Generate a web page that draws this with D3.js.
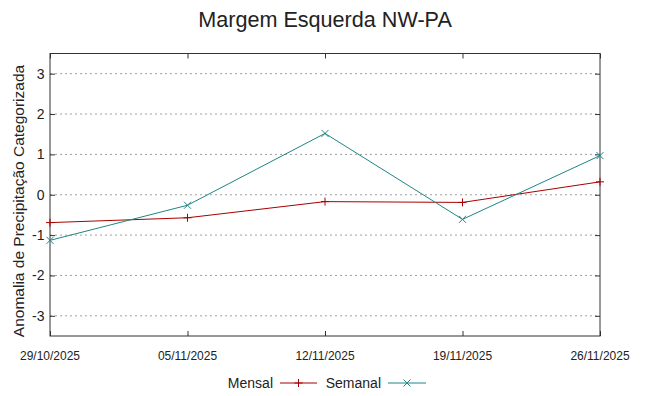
<!DOCTYPE html>
<html><head><meta charset="utf-8">
<script src="https://cdn.jsdelivr.net/npm/d3@7"></script>
<style>body{margin:0;background:#fff}svg{display:block}text{font-family:"Liberation Sans",Arial,sans-serif;fill:#222}</style>
</head><body><svg id="c" width="649" height="396"></svg>
<script>
const dates = ["29/10/2025","05/11/2025","12/11/2025","19/11/2025","26/11/2025"];
const mensal = [-0.69,-0.57,-0.17,-0.19,0.32];
const semanal = [-1.13,-0.26,1.52,-0.61,0.97];
const yTicks = [-3,-2,-1,0,1,2,3];
const title = "Margem Esquerda NW-PA";
const yLabel = "Anomalia de Precipitação Categorizada";

const svg = d3.select("#c");
const L=50, R=600, T=53.5, B=336;
const x = d3.scalePoint().domain(dates).range([L,R]);
const y = d3.scaleLinear().domain([-3.5,3.5]).range([B,T]);

svg.append("text").attr("x",325).attr("y",27).attr("text-anchor","middle")
  .style("font-size","21.6px").text(title);

// grid
svg.append("g").selectAll("line").data(yTicks).join("line")
  .attr("x1",L).attr("x2",R).attr("y1",d=>y(d)).attr("y2",d=>y(d))
  .attr("stroke","#a0a0a0").attr("stroke-width",1).attr("stroke-dasharray","2,3");

// axes with inside ticks
const tl=5;
const gl = svg.append("g").attr("transform",`translate(${L},0)`)
  .call(d3.axisRight(y).tickValues(yTicks).tickSize(tl).tickFormat(""));
const gr = svg.append("g").attr("transform",`translate(${R},0)`)
  .call(d3.axisLeft(y).tickValues(yTicks).tickSize(tl).tickFormat(""));
const gb = svg.append("g").attr("transform",`translate(0,${B})`)
  .call(d3.axisTop(x).tickSize(tl).tickFormat(""));
const gt = svg.append("g").attr("transform",`translate(0,${T})`)
  .call(d3.axisBottom(x).tickSize(tl).tickFormat(""));
[gl,gr,gb,gt].forEach(g=>{g.select(".domain").remove();g.selectAll("line").attr("stroke","#333");});
svg.append("rect").attr("x",L).attr("y",T).attr("width",R-L).attr("height",B-T)
  .attr("fill","none").attr("stroke","#333").attr("stroke-width",1);

// tick labels
svg.append("g").selectAll("text").data(yTicks).join("text")
  .attr("x",44.5).attr("y",d=>y(d)).attr("dy","0.35em").attr("text-anchor","end")
  .style("font-size","14px").text(d=>d);
svg.append("g").selectAll("text").data(dates).join("text")
  .attr("x",d=>x(d)).attr("y",360).attr("text-anchor","middle")
  .style("font-size","12px").text(d=>d);

svg.append("text").attr("transform","translate(24,201) rotate(-90)")
  .attr("text-anchor","middle").style("font-size","15.5px").text(yLabel);

const cM="#a80000", cS="#1f8585";
const line = d3.line().x((d,i)=>x(dates[i])).y(d=>y(d));
svg.append("path").datum(mensal).attr("d",line).attr("fill","none").attr("stroke",cM).attr("stroke-width",1);
svg.append("path").datum(semanal).attr("d",line).attr("fill","none").attr("stroke",cS).attr("stroke-width",1);

function plus(g,cx,cy,c){g.append("path").attr("d",`M${cx-4},${cy}H${cx+4}M${cx},${cy-4}V${cy+4}`).attr("stroke",c).attr("stroke-width",1);}
function cross(g,cx,cy,c){g.append("path").attr("d",`M${cx-3.5},${cy-3.5}L${cx+3.5},${cy+3.5}M${cx-3.5},${cy+3.5}L${cx+3.5},${cy-3.5}`).attr("stroke",c).attr("stroke-width",1);}
const gm = svg.append("g");
mensal.forEach((v,i)=>plus(gm,x(dates[i]),y(v),cM));
semanal.forEach((v,i)=>cross(gm,x(dates[i]),y(v),cS));

// legend
const ly=383;
svg.append("text").attr("x",273).attr("y",ly).attr("dy","0.35em").attr("text-anchor","end").style("font-size","14px").text("Mensal");
svg.append("line").attr("x1",280).attr("x2",317).attr("y1",ly).attr("y2",ly).attr("stroke",cM);
plus(svg,298.5,ly,cM);
svg.append("text").attr("x",381).attr("y",ly).attr("dy","0.35em").attr("text-anchor","end").style("font-size","14px").text("Semanal");
svg.append("line").attr("x1",388).attr("x2",426).attr("y1",ly).attr("y2",ly).attr("stroke",cS);
cross(svg,407,ly,cS);
</script></body></html>
